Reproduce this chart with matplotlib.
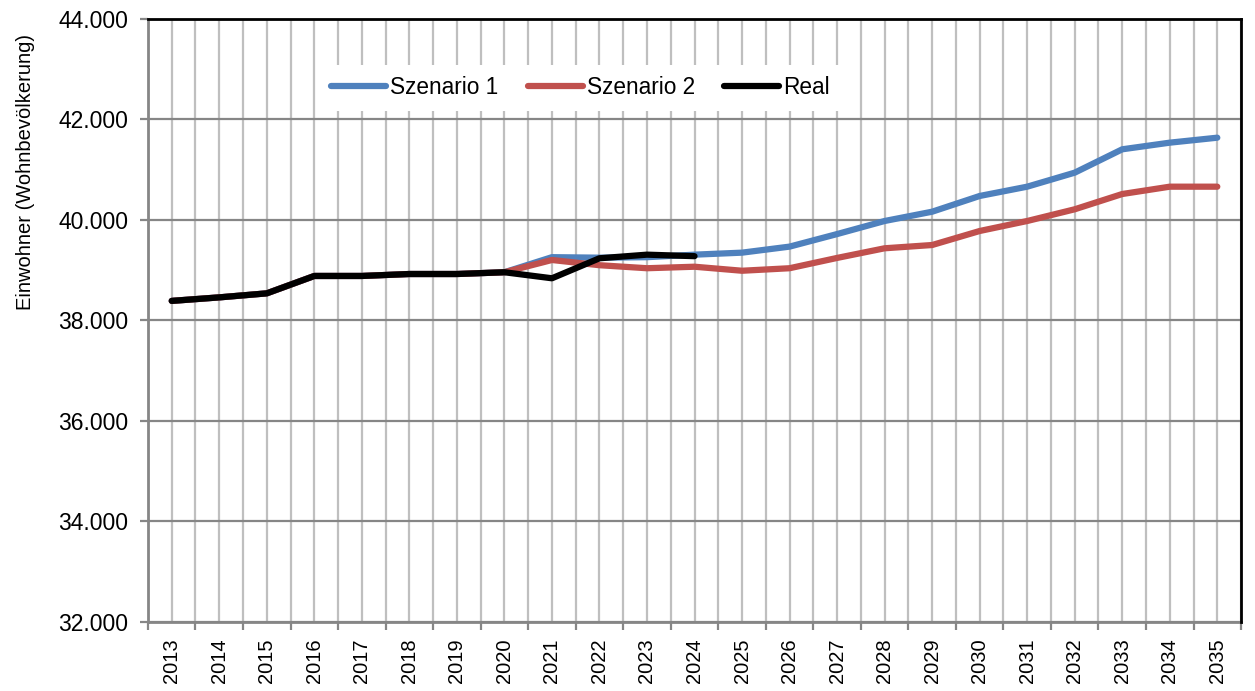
import numpy as np
from matplotlib import pyplot as plt
from matplotlib.ticker import FuncFormatter, FixedLocator

plt.rcParams['font.family'] = ['Liberation Sans', 'DejaVu Sans']

years = [str(y) for y in range(2013, 2036)]

real = [38390, 38460, 38540, 38886, 38886, 38925, 38925, 38960, 38840,
        39238, 39310, 39280]
szenario1 = [38390, 38460, 38540, 38886, 38886, 38925, 38925, 38960, 39260,
             39250, 39260, 39310, 39350, 39470, 39720, 39980, 40165, 40478,
             40663, 40942, 41407, 41539, 41638]
szenario2 = [38390, 38460, 38540, 38886, 38886, 38925, 38925, 38960, 39204,
             39100, 39040, 39070, 38990, 39040, 39245, 39437, 39502, 39781,
             39980, 40213, 40517, 40663, 40663]

blue = '#4f81bd'
red = '#c0504d'
grid_c = '#bfbfbf'
axis_c = '#868686'

fig = plt.figure(figsize=(12.55, 6.91), dpi=100)
ax = fig.add_axes([0.1179, 0.0999, 0.8710, 0.8726])

x = np.arange(len(years))
ax.plot(x, szenario1, color=blue, lw=4.5, label='Szenario 1', solid_capstyle='round', zorder=3)
ax.plot(x, szenario2, color=red, lw=4.5, label='Szenario 2', solid_capstyle='round', zorder=3)
ax.plot(x[:len(real)], real, color='black', lw=4.5, label='Real', solid_capstyle='round', zorder=4)

ax.set_xlim(-0.5, len(years) - 0.5)
ax.set_ylim(32000, 44000)
ax.set_yticks(np.arange(32000, 44001, 2000))
ax.yaxis.set_major_formatter(FuncFormatter(lambda v, p: f'{int(v):,}'.replace(',', '.')))

# grid at every half category (centres and boundaries)
for g in np.arange(-0.5, len(years), 0.5):
    ax.axvline(g, color=grid_c, lw=1.6, zorder=1)
for g in np.arange(32000, 44001, 2000):
    ax.axhline(g, color=axis_c, lw=1.6, zorder=1)

ax.set_xticks(x)
ax.set_xticklabels(years, rotation=90, fontsize=14.5)
ax.tick_params(axis='x', length=0, pad=12)
ax.xaxis.set_minor_locator(FixedLocator(np.arange(-0.5, len(years), 1.0)))
ax.tick_params(axis='x', which='minor', length=6, width=1.6, color=axis_c)
ax.tick_params(axis='y', length=6, width=1.6, color=axis_c, labelsize=16.5, pad=8)

ax.spines['left'].set_color(axis_c)
ax.spines['left'].set_linewidth(2)
ax.spines['bottom'].set_color(axis_c)
ax.spines['bottom'].set_linewidth(2)
ax.spines['top'].set_color('black')
ax.spines['top'].set_linewidth(2)
ax.spines['right'].set_color('black')
ax.spines['right'].set_linewidth(2)
ax.spines['top'].set_zorder(5)
ax.spines['right'].set_zorder(5)

ax.set_ylabel('Einwohner (Wohnbevölkerung)', fontsize=14.5)
ax.yaxis.set_label_coords(-0.103, 0.746)

leg = ax.legend(loc='center left', bbox_to_anchor=(0.147, 0.886), ncol=3, frameon=True,
                fontsize=16.3, handlelength=2.43, handletextpad=0.18, columnspacing=1.28,
                edgecolor='white', framealpha=1, fancybox=False, borderpad=0.5)
leg.get_frame().set_linewidth(0)

fig.savefig('out.png', dpi=100)
